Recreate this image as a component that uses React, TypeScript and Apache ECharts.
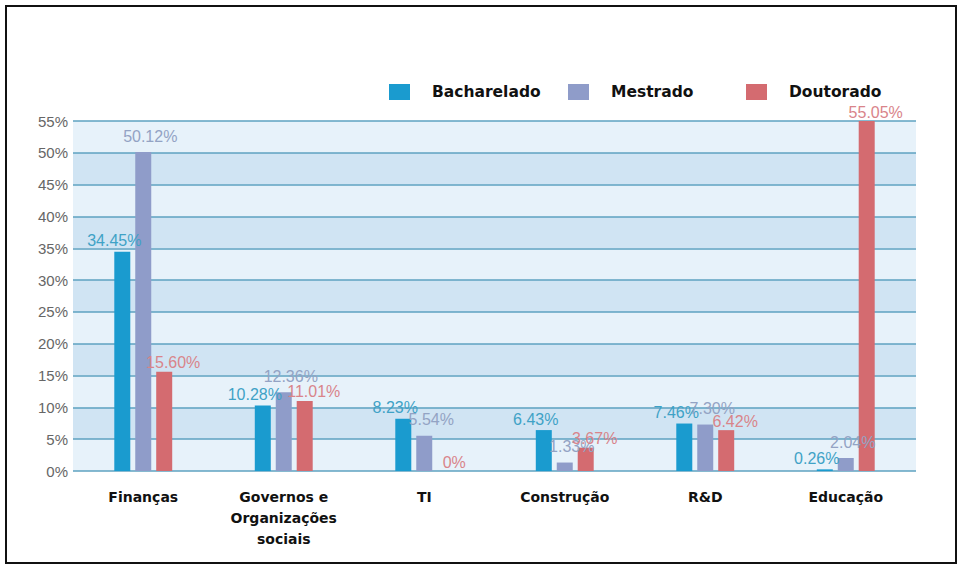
import React, { useEffect, useRef } from "react";
import * as echarts from "echarts";

const categories = [
  "Finanças",
  "Governos e\nOrganizações\nsociais",
  "TI",
  "Construção",
  "R&D",
  "Educação",
];
const seriesNames = ["Bacharelado", "Mestrado", "Doutorado"];
const bacharelado = [34.45, 10.28, 8.23, 6.43, 7.46, 0.26];
const mestrado = [50.12, 12.36, 5.54, 1.33, 7.3, 2.04];
const doutorado = [15.6, 11.01, 0, 3.67, 6.42, 55.05];
const yTicks = [0, 5, 10, 15, 20, 25, 30, 35, 40, 45, 50, 55];

const barColors = ["#1a9bcf", "#8f9cc9", "#d46b70"];
const labelColors = ["#3fa2c6", "#93a3c4", "#d9848a"];
const labelOffsets = [-8, 7, 9];
const labelDistances = [3, 8, 1];
const legendLefts = [389, 568, 746];

export default function App() {
  const ref = useRef<HTMLDivElement>(null);
  useEffect(() => {
    if (!ref.current) return;
    const chart = echarts.init(ref.current, undefined, { renderer: "svg" });
    const values = [bacharelado, mestrado, doutorado];
    const fmt = (v: number) => {
      const s = v === 0 ? "0" : v.toFixed(2);
      return s + "%";
    };
    chart.setOption({
      animation: false,
      backgroundColor: "#ffffff",
      graphic: [
        {
          type: "rect",
          shape: { x: 6, y: 6, width: 950, height: 557 },
          style: { fill: "none", stroke: "#111", lineWidth: 2 },
          z: 100,
        },
      ],
      legend: seriesNames.map((n, i) => ({
        data: [n],
        left: legendLefts[i],
        top: 84,
        padding: 0,
        itemWidth: 21,
        itemHeight: 16,
        icon: "rect",
        selectedMode: false,
        textStyle: {
          fontFamily: "DejaVu Sans",
          fontWeight: "bold",
          fontSize: 15.5,
          color: "#111",
          padding: [0, 0, 0, 17],
        },
      })),
      grid: { left: 73, right: 44, top: 121, bottom: 96, containLabel: false },
      xAxis: {
        type: "category",
        data: categories,
        axisLine: { show: false },
        axisTick: { show: false },
        axisLabel: {
          interval: 0,
          margin: 15,
          fontFamily: "DejaVu Sans",
          fontWeight: "bold",
          fontSize: 14,
          lineHeight: 21,
          color: "#111",
        },
      },
      yAxis: {
        type: "value",
        min: 0,
        max: 55,
        interval: 5,
        axisLine: { show: false },
        axisTick: { show: false },
        axisLabel: {
          margin: 5,
          fontFamily: "Liberation Sans",
          fontSize: 15,
          color: "#666666",
          formatter: (v: number) => (yTicks.includes(v) ? v + "%" : ""),
        },
        splitLine: { show: true, lineStyle: { color: "#5ea2c0", width: 1.6 } },
        splitArea: { show: true, areaStyle: { color: ["#e7f2fa", "#d0e4f3"] } },
      },
      series: seriesNames.map((n, i) => ({
        name: n,
        type: "bar",
        data: values[i],
        barWidth: 16,
        barGap: "31%",
        itemStyle: { color: barColors[i] },
        label: {
          show: true,
          position: "top",
          distance: labelDistances[i],
          offset: [labelOffsets[i], 0],
          fontFamily: "Liberation Sans",
          fontSize: 16,
          color: labelColors[i],
          formatter: (p: any) => fmt(p.value),
        },
      })),
    });
    return () => chart.dispose();
  }, []);
  return (
    <div
      ref={ref}
      style={{ position: "fixed", left: 0, top: 0, width: 960, height: 567 }}
    />
  );
}
